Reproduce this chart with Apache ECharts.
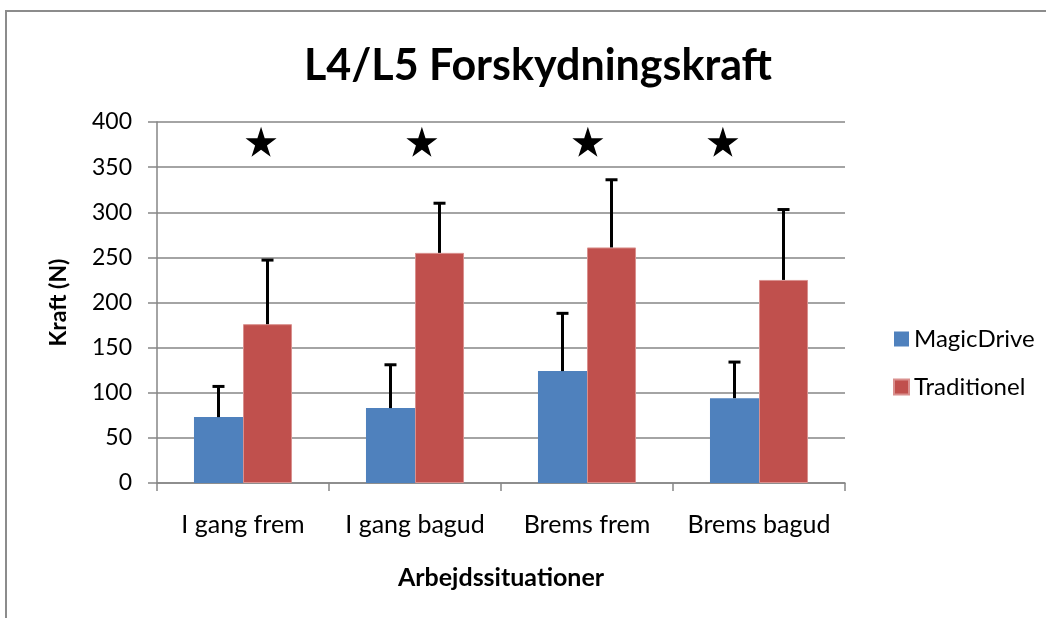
<!DOCTYPE html>
<html>
<head>
<meta charset="utf-8">
<script src="https://cdn.jsdelivr.net/npm/echarts@6/dist/echarts.min.js"></script>
<style>html,body{margin:0;padding:0;background:#fff}#c{width:1046px;height:618px}</style>
</head>
<body>
<div id="c"></div>
<script>
const categories = ['I gang frem', 'I gang bagud', 'Brems frem', 'Brems bagud'];
const magicDrive = [73, 83, 124, 94];
const magicDriveErrTop = [107, 131, 188, 134];
const traditionel = [176, 255, 261, 225];
const traditionelErrTop = [247, 310, 336, 303];
const starX = [0.605, 1.54, 2.505, 3.29];
const starY = [378, 378, 378, 378];
const yTicks = [0, 50, 100, 150, 200, 250, 300, 350, 400];

const FONT = 'Lato';
const GAP = 0.43;
const chart = echarts.init(document.getElementById('c'), null, {renderer: 'canvas'});

function errSeries(name, vals, tops, idx) {
  return {
    type: 'custom', name: name + ' err', xAxisIndex: 0, yAxisIndex: 0, z: 5,
    data: vals.map((v, i) => [i, tops[i], v]),
    encode: {x: 0, y: 1},
    renderItem: function (params, api) {
      const ci = api.value(0);
      const pTop = api.coord([ci, api.value(1)]);
      const pBase = api.coord([ci, api.value(2)]);
      const band = api.size([1, 0])[0];
      const barW = band * (1 - GAP) / 2;
      const x = pTop[0] + (idx === 0 ? -barW / 2 : barW / 2);
      const st = {stroke: '#000', lineWidth: 3};
      return {type: 'group', children: [
        {type: 'line', shape: {x1: x, y1: pBase[1], x2: x, y2: pTop[1]}, style: st},
        {type: 'line', shape: {x1: x - 6, y1: pTop[1], x2: x + 6, y2: pTop[1]}, style: st}
      ]};
    },
    tooltip: {show: false}
  };
}

const option = {
  animation: false,
  backgroundColor: '#fff',
  textStyle: {fontFamily: FONT},
  title: {
    text: 'L4/L5 Forskydningskraft', left: 533, top: 40, textAlign: 'center',
    textStyle: {fontFamily: FONT, fontWeight: 'bold', fontSize: 43, color: '#000'}
  },
  graphic: [{
    type: 'rect', shape: {x: 6, y: 11, width: 1200, height: 800},
    style: {fill: 'none', stroke: '#8c8c8c', lineWidth: 2}, silent: true, z: 100
  }],
  legend: {
    orient: 'vertical', left: 888, top: 322, itemWidth: 15, itemHeight: 15, itemGap: 24,
    icon: 'rect',
    data: ['MagicDrive', 'Traditionel'],
    textStyle: {fontFamily: FONT, fontSize: 24, color: '#000'}
  },
  grid: {left: 157, right: 201, top: 122, bottom: 135, containLabel: false},
  xAxis: [{
    type: 'category', data: categories,
    name: 'Arbejdssituationer', nameLocation: 'middle', nameGap: 82,
    nameTextStyle: {fontFamily: FONT, fontWeight: 'bold', fontSize: 25, color: '#000'},
    axisLine: {lineStyle: {color: '#868686', width: 1.5}},
    axisTick: {show: true, interval: 0, length: 8, lineStyle: {color: '#868686', width: 1.5}, alignWithLabel: false},
    axisLabel: {interval: 0, hideOverlap: false, fontFamily: FONT, fontSize: 25, color: '#000', margin: 29}
  }, {
    type: 'value', min: 0, max: 4, show: false
  }],
  yAxis: {
    type: 'value', min: 0, max: 400, interval: 50,
    name: 'Kraft (N)', nameLocation: 'middle', nameGap: 87,
    nameTextStyle: {fontFamily: FONT, fontWeight: 'bold', fontSize: 23, color: '#000'},
    axisLine: {show: true, lineStyle: {color: '#868686', width: 1.5}},
    axisTick: {show: true, length: 9, lineStyle: {color: '#868686', width: 1.5}},
    axisLabel: {fontFamily: FONT, fontSize: 23, color: '#000', margin: 25,
      formatter: v => yTicks.includes(v) ? String(v) : ''},
    splitLine: {lineStyle: {color: '#868686', width: 1.5}}
  },
  series: [
    {name: 'MagicDrive', type: 'bar', data: magicDrive, barGap: '0%', barCategoryGap: (GAP * 100) + '%',
      itemStyle: {color: '#4F81BD'}},
    {name: 'Traditionel', type: 'bar', data: traditionel, barGap: '0%', barCategoryGap: (GAP * 100) + '%',
      itemStyle: {color: '#C0504D', borderColor: '#d9908e', borderWidth: 1}},
    errSeries('MagicDrive', magicDrive, magicDriveErrTop, 0),
    errSeries('Traditionel', traditionel, traditionelErrTop, 1),
    {name: 'stars', type: 'scatter', xAxisIndex: 1, yAxisIndex: 0, z: 6,
      symbol: 'path://M50,0 L61.2,34.5 L97.6,34.5 L68.2,55.9 L79.4,90.5 L50,69.1 L20.6,90.5 L31.8,55.9 L2.4,34.5 L38.8,34.5 Z',
      symbolSize: [31, 30],
      itemStyle: {color: '#000', opacity: 1},
      emphasis: {disabled: true},
      data: starX.map((x, i) => [x, starY[i]])}
  ]
};
chart.setOption(option);
</script>
</body>
</html>
